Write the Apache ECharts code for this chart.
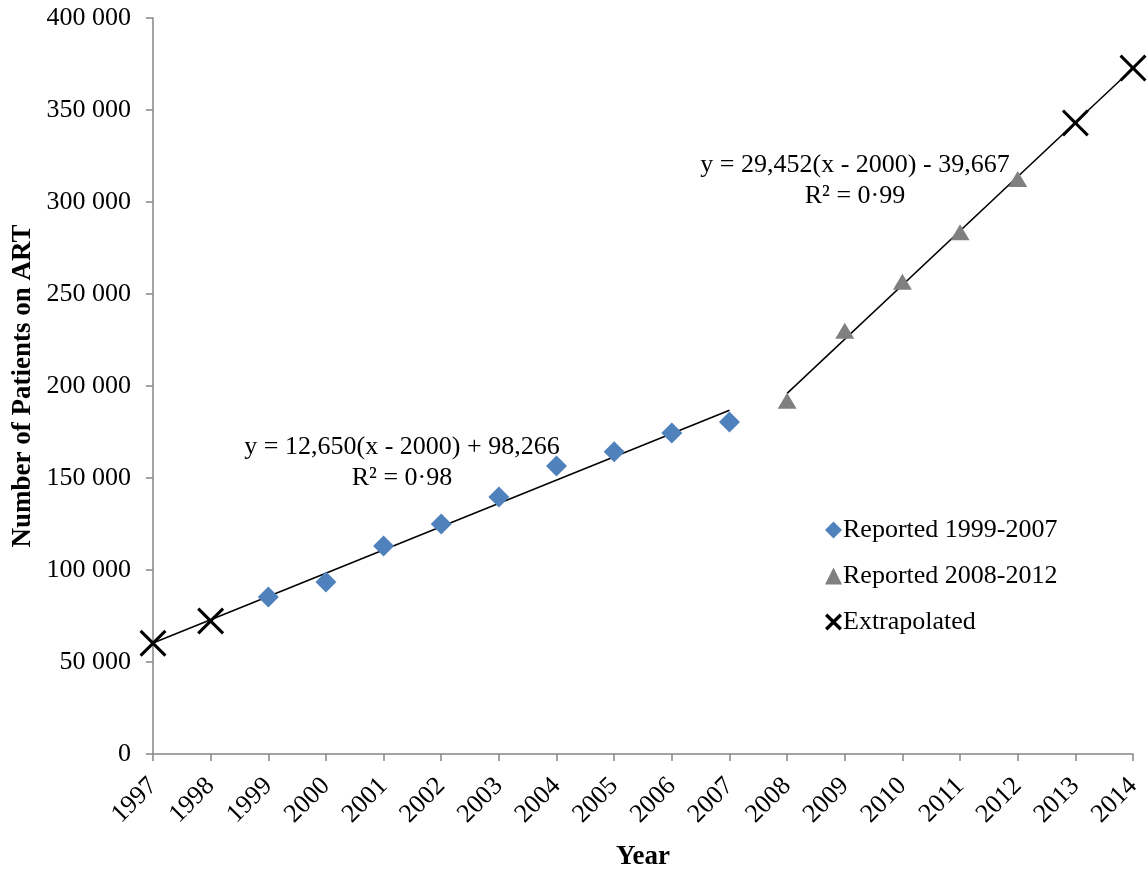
<!DOCTYPE html>
<html>
<head>
<meta charset="utf-8">
<script src="https://cdn.jsdelivr.net/npm/echarts@6/dist/echarts.min.js"></script>
<style>
  html, body { margin: 0; padding: 0; background: #fff; }
  #chart { width: 1147px; height: 872px; }
</style>
</head>
<body>
<div id="chart"></div>
<script>
// values
const reportedYears1 = [1999, 2000, 2001, 2002, 2003, 2004, 2005, 2006, 2007];
const reportedValues1 = [85300, 93500, 113000, 125000, 139700, 156500, 164300, 174400, 180400];

const reportedYears2 = [2008, 2009, 2010, 2011, 2012];
const reportedValues2 = [192000, 230000, 256700, 283500, 312500];

const extrapYears = [1997, 1998, 2013, 2014];
const extrapValues = [60200, 72300, 343000, 372800];

// trend line endpoints
const trend1Years = [1997, 2007];
const trend1Values = [60300, 186800];
const trend2Years = [2008, 2014];
const trend2Values = [196000, 372700];

const zip = (xs, ys) => xs.map((x, i) => [x, ys[i]]);

const FONT = '"Liberation Serif", "Times New Roman", serif';
const crossPath = 'path://M0,8 L8,0 L50,42 L92,0 L100,8 L58,50 L100,92 L92,100 L50,58 L8,100 L0,92 L42,50 Z';
const crossBold = 'path://M0,14 L14,0 L50,36 L86,0 L100,14 L64,50 L100,86 L86,100 L50,64 L14,100 L0,86 L36,50 Z';

const chart = echarts.init(document.getElementById('chart'));

chart.setOption({
  animation: false,
  grid: { left: 153, right: 14, top: 18, bottom: 118, outerBoundsMode: 'none', containLabel: false },
  xAxis: {
    type: 'value',
    min: 1997, max: 2014, interval: 1,
    name: 'Year',
    nameLocation: 'middle',
    nameGap: 90,
    nameMoveOverlap: false,
    nameTextStyle: { fontFamily: FONT, fontSize: 27, fontWeight: 'bold', color: '#000' },
    axisLine: { lineStyle: { color: '#868686', width: 1.5 } },
    axisTick: { show: true, length: 7, lineStyle: { color: '#868686', width: 1.5 } },
    splitLine: { show: false },
    axisLabel: {
      rotate: 45, margin: 28,
      fontFamily: FONT, fontSize: 26, color: '#000',
      formatter: v => String(v)
    }
  },
  yAxis: {
    type: 'value',
    min: 0, max: 400000, interval: 50000,
    name: 'Number of Patients on ART',
    nameLocation: 'middle',
    nameGap: 116,
    nameMoveOverlap: false,
    nameTextStyle: { fontFamily: FONT, fontSize: 27, fontWeight: 'bold', color: '#000' },
    axisLine: { show: true, lineStyle: { color: '#868686', width: 1.5 } },
    axisTick: { show: true, length: 7, lineStyle: { color: '#868686', width: 1.5 } },
    splitLine: { show: false },
    axisLabel: {
      margin: 22,
      fontFamily: FONT, fontSize: 26, color: '#000',
      formatter: v => v === 0 ? '0' : String(v).replace(/\B(?=(\d{3})+(?!\d))/g, ' ')
    }
  },
  legend: {
    orient: 'vertical',
    left: 820, top: 512,
    itemWidth: 17, itemHeight: 17, itemGap: 20,
    textStyle: { fontFamily: FONT, fontSize: 26, color: '#000', padding: [0, 0, 0, -4] },
    data: [
      { name: 'Reported 1999-2007', icon: 'diamond' },
      { name: 'Reported 2008-2012', icon: 'triangle' },
      { name: 'Extrapolated', icon: crossBold }
    ]
  },
  series: [
    {
      type: 'line', name: 'trend1',
      data: zip(trend1Years, trend1Values),
      symbol: 'none',
      lineStyle: { color: '#000', width: 1.5 },
      z: 1, silent: true
    },
    {
      type: 'line', name: 'trend2',
      data: zip(trend2Years, trend2Values),
      symbol: 'none',
      lineStyle: { color: '#000', width: 1.5 },
      z: 1, silent: true
    },
    {
      type: 'scatter', name: 'Reported 1999-2007',
      data: zip(reportedYears1, reportedValues1),
      symbol: 'diamond', symbolSize: 21,
      itemStyle: { color: '#4F81BD', opacity: 1 },
      z: 3
    },
    {
      type: 'scatter', name: 'Reported 2008-2012',
      data: zip(reportedYears2, reportedValues2),
      symbol: 'triangle', symbolSize: [19, 16],
      itemStyle: { color: '#808080', opacity: 1 },
      z: 3
    },
    {
      type: 'scatter', name: 'Extrapolated',
      data: zip(extrapYears, extrapValues),
      symbol: crossPath, symbolSize: 27,
      itemStyle: { color: '#000', opacity: 1 },
      z: 4
    }
  ],
  graphic: [
    {
      type: 'text', x: 402, y: 432,
      style: { text: 'y = 12,650(x - 2000) + 98,266\nR² = 0·98', font: '26px ' + FONT,
               fill: '#000', align: 'center', lineHeight: 31 }
    },
    {
      type: 'text', x: 855, y: 150,
      style: { text: 'y = 29,452(x - 2000) - 39,667\nR² = 0·99', font: '26px ' + FONT,
               fill: '#000', align: 'center', lineHeight: 31 }
    }
  ]
});
</script>
</body>
</html>
